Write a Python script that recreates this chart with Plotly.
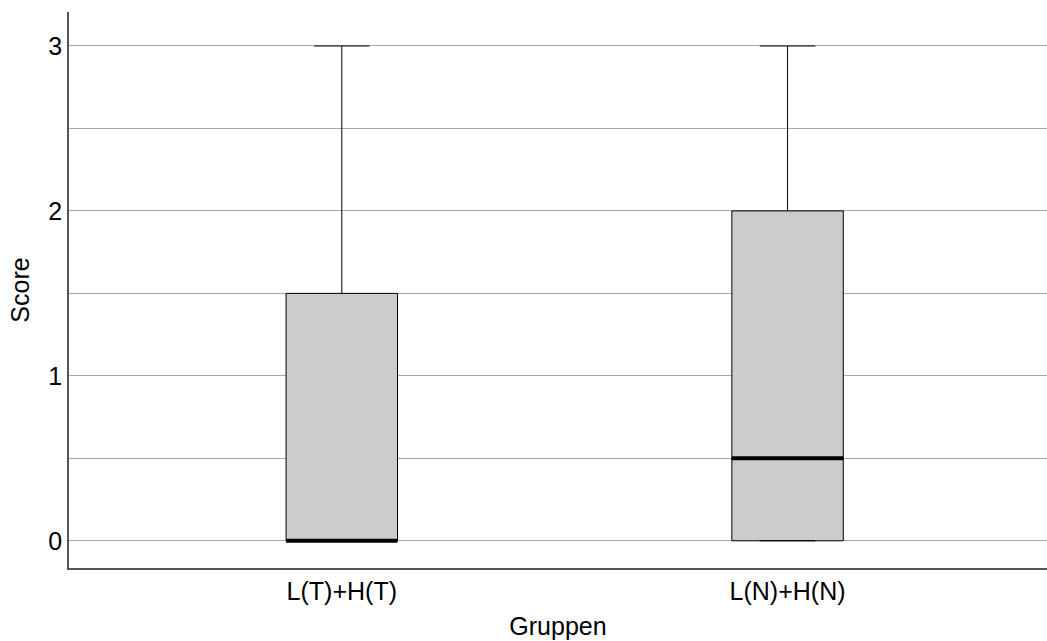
import plotly.graph_objects as go

categories = ["L(T)+H(T)", "L(N)+H(N)"]
positions = [0, 1]
lower_fence = [0, 0]
q1 = [0, 0]
median = [0, 0.5]
q3 = [1.5, 2]
upper_fence = [3, 3]

box_width = 0.25
FONT = "Arial, Liberation Sans, sans-serif"
FS = 25

fig = go.Figure()
fig.add_trace(go.Box(
    x=positions, q1=q1, median=median, q3=q3,
    lowerfence=lower_fence, upperfence=upper_fence,
    width=box_width, whiskerwidth=0.5,
    fillcolor="#cccccc", line=dict(color="black", width=1),
    boxpoints=False, showlegend=False, hoverinfo="skip",
))

# thick median lines
mx, my = [], []
for p, m in zip(positions, median):
    mx += [p - box_width / 2, p + box_width / 2, None]
    my += [m, m, None]
fig.add_trace(go.Scatter(x=mx, y=my, mode="lines",
                         line=dict(color="black", width=4),
                         showlegend=False, hoverinfo="skip"))

fig.update_layout(
    width=1047, height=641,
    margin=dict(l=69, r=0, t=12, b=73),
    plot_bgcolor="white", paper_bgcolor="white",
    font=dict(family=FONT, size=FS, color="black"),
)
fig.update_xaxes(
    range=[-0.612, 1.582], tickvals=positions, ticktext=categories,
    showgrid=False, zeroline=False, showline=True, linecolor="#555555", linewidth=1.5,
    ticks="", title=dict(text="Gruppen", standoff=14, font=dict(size=FS)),
    tickfont=dict(size=FS), automargin=False,
)
fig.update_yaxes(
    range=[-0.165, 3.206], tickvals=[0, 1, 2, 3],
    showgrid=True, gridcolor="#a8a8a8", gridwidth=1,
    minor=dict(dtick=0.5, showgrid=True, gridcolor="#a8a8a8", gridwidth=1),
    zeroline=False, showline=True, linecolor="#555555", linewidth=1.5,
    ticks="", title=dict(text="Score", standoff=12, font=dict(size=FS)),
    tickfont=dict(size=FS), automargin=False,
)

fig.write_html(
    "out.html",
    config={"displayModeBar": False},
    post_script="document.body.style.margin='0';document.body.style.overflow='hidden';",
)
